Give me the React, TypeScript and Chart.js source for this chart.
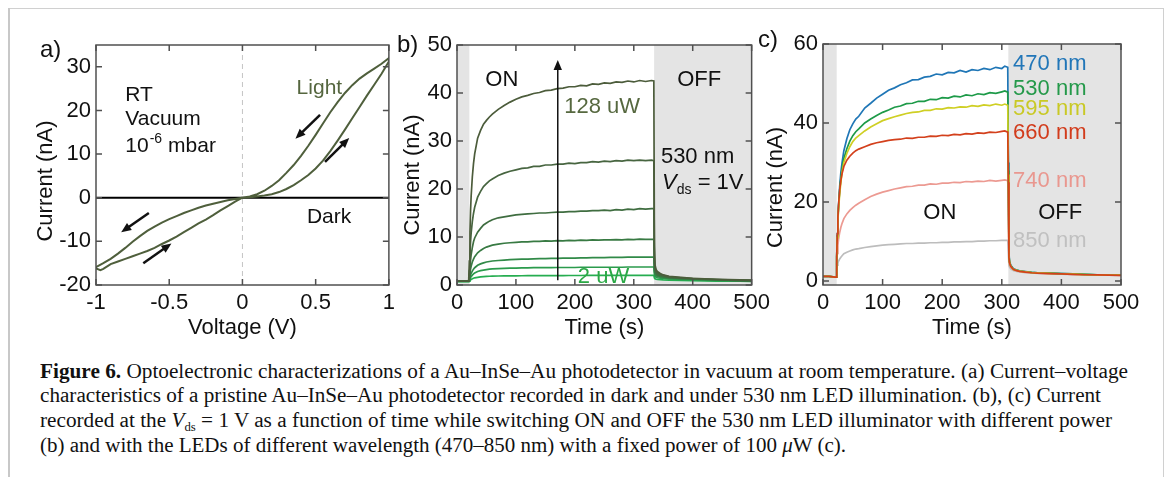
import React, { useEffect, useLayoutEffect, useRef } from "react";
import { Chart, registerables } from "chart.js";

Chart.register(...registerables);

const SANS = "'Liberation Sans', Arial, Helvetica, sans-serif";
const SERIF = "'Liberation Serif', 'Times New Roman', serif";

// ---------------- Panel a: I–V loop (530 nm light) ----------------
const ivVoltage = [
  0, 0.05, 0.1, 0.15, 0.2, 0.25, 0.3, 0.35, 0.4, 0.45, 0.5, 0.55, 0.6, 0.65, 0.7, 0.75, 0.8, 0.85, 0.9, 0.95, 1.0,
  1.0, 0.95, 0.9, 0.85, 0.8, 0.75, 0.7, 0.65, 0.6, 0.55, 0.5, 0.45, 0.4, 0.35, 0.3, 0.25, 0.2, 0.15, 0.1, 0.05, 0,
  -0.05, -0.1, -0.15, -0.2, -0.25, -0.3, -0.35, -0.4, -0.45, -0.5, -0.55, -0.6, -0.65, -0.7, -0.75, -0.8, -0.85, -0.9, -0.95, -1.0,
  -1.0, -0.97, -0.95, -0.9, -0.85, -0.8, -0.75, -0.7, -0.65, -0.6, -0.55, -0.5, -0.45, -0.4, -0.35, -0.3, -0.25, -0.2, -0.15, -0.1, -0.05, 0,
];
const ivCurrent = [
  0, 0.1, 0.3, 0.5, 0.8, 1.3, 2.0, 2.9, 4.0, 5.2, 6.7, 8.5, 10.7, 13.1, 15.6, 18.2, 20.8, 23.4, 25.9, 28.4, 31.2,
  32.0, 30.7, 29.6, 28.5, 27.3, 25.8, 24.0, 21.9, 19.6, 17.0, 14.4, 11.9, 9.6, 7.5, 5.7, 4.0, 2.7, 1.6, 0.8, 0.3, 0,
  -0.3, -0.6, -1.0, -1.4, -1.8, -2.3, -2.9, -3.5, -4.2, -4.9, -5.7, -6.6, -7.6, -8.8, -10.1, -11.5, -12.8, -14.0, -15.0, -15.9,
  -16.2, -16.6, -16.3, -15.2, -14.6, -14.0, -13.4, -12.8, -12.2, -11.5, -10.6, -9.8, -8.9, -7.9, -6.9, -5.9, -5.0, -4.0, -2.9, -1.9, -0.9, 0,
];
const darkVoltage = [-1, 1];
const darkCurrent = [0, 0];
const zeroGuideV = [0, 0];
const zeroGuideI = [-20, 35];
const voltageTicks = [-1, -0.5, 0, 0.5, 1];
const currentTicksA = [-20, -10, 0, 10, 20, 30];

// ---------------- Panel b: 530 nm, different power ----------------
const timeB = [
  0, 10, 19, 20, 21, 22, 23, 24, 26, 28,
  30, 35, 40, 45, 50, 55, 60,
  70, 80, 90, 100, 110, 120, 130, 140, 150, 160, 170, 180, 190, 200, 210, 220, 230, 240, 250, 260, 270, 280, 290, 300, 310, 320, 330,
  334, 335, 336, 338, 340, 345, 350, 360, 380, 400, 420, 440, 460, 480, 500,
];
const powerLabels = ["128 uW", "P6", "P5", "P4", "P3", "P2", "2 uW"];
const bCurve1 = [
  0.8, 0.8, 0.8, 1.5, 5, 11, 15.5, 18.5, 22.5, 25.3,
  27.3, 30.6, 32.2, 33.5, 34.3, 35.0, 35.6,
  36.6, 37.4, 38.1, 38.7, 39.2, 39.5, 39.9, 40.1, 40.5, 40.6, 40.9, 41.0, 41.3, 41.3, 41.6, 41.5, 41.9, 41.8, 42.1, 42.0, 42.3, 42.2, 42.5, 42.3, 42.6, 42.4, 42.6,
  42.5, 8, 4.2, 3.2, 2.8, 2.4, 2.1, 1.8, 1.6, 1.4, 1.3, 1.2, 1.1, 1.05, 1.0,
];
const bCurve2 = [
  0.8, 0.8, 0.8, 1.2, 3, 6.5, 9, 10.8, 13.2, 14.9,
  16.2, 18.3, 19.5, 20.5, 21.1, 21.7, 22.1,
  22.8, 23.3, 23.7, 24.0, 24.3, 24.4, 24.7, 24.7, 25.0, 25.0, 25.2, 25.2, 25.4, 25.3, 25.5, 25.5, 25.7, 25.6, 25.8, 25.7, 25.9, 25.8, 26.0, 25.9, 26.0, 25.9, 26.0,
  25.9, 6, 3.6, 2.9, 2.5, 2.2, 2.0, 1.7, 1.5, 1.35, 1.25, 1.15, 1.05, 1.0, 0.95,
];
const bCurve3 = [
  0.8, 0.8, 0.8, 1.0, 2.1, 3.8, 5.2, 6.3, 7.8, 9.0,
  9.8, 11.0, 11.8, 12.5, 12.9, 13.3, 13.6,
  14.0, 14.2, 14.4, 14.6, 14.7, 14.8, 14.9, 15.0, 15.0, 15.1, 15.2, 15.2, 15.3, 15.3, 15.4, 15.4, 15.5, 15.5, 15.6, 15.5, 15.7, 15.6, 15.8, 15.7, 15.9, 15.8, 15.9,
  15.9, 4.5, 3.0, 2.5, 2.2, 2.0, 1.8, 1.6, 1.4, 1.3, 1.2, 1.1, 1.0, 0.95, 0.9,
];
const bCurve4 = [
  0.8, 0.8, 0.8, 0.9, 1.6, 2.5, 3.3, 3.9, 4.8, 5.4,
  5.9, 6.7, 7.2, 7.6, 7.9, 8.1, 8.3,
  8.5, 8.7, 8.8, 8.9, 9.0, 9.0, 9.1, 9.1, 9.2, 9.15, 9.25, 9.2, 9.3, 9.25, 9.35, 9.3, 9.4, 9.35, 9.4, 9.4, 9.45, 9.4, 9.5, 9.45, 9.55, 9.5, 9.5,
  9.5, 3.5, 2.6, 2.2, 2.0, 1.8, 1.7, 1.5, 1.35, 1.25, 1.15, 1.05, 1.0, 0.9, 0.85,
];
const bCurve5 = [
  0.8, 0.8, 0.8, 0.85, 1.2, 1.7, 2.1, 2.4, 2.9, 3.3,
  3.6, 4.1, 4.4, 4.6, 4.8, 4.9, 5.0,
  5.1, 5.2, 5.3, 5.35, 5.4, 5.4, 5.45, 5.5, 5.5, 5.55, 5.55, 5.6, 5.6, 5.6, 5.65, 5.65, 5.7, 5.7, 5.7, 5.75, 5.75, 5.75, 5.8, 5.8, 5.8, 5.8, 5.8,
  5.8, 2.8, 2.2, 1.9, 1.8, 1.65, 1.55, 1.4, 1.3, 1.2, 1.1, 1.0, 0.95, 0.88, 0.82,
];
const bCurve6 = [
  0.75, 0.75, 0.75, 0.8, 1.0, 1.3, 1.55, 1.75, 2.05, 2.3,
  2.5, 2.8, 3.0, 3.1, 3.2, 3.3, 3.35,
  3.4, 3.45, 3.5, 3.5, 3.55, 3.55, 3.6, 3.6, 3.6, 3.6, 3.65, 3.65, 3.65, 3.65, 3.7, 3.7, 3.7, 3.7, 3.7, 3.7, 3.7, 3.7, 3.75, 3.75, 3.75, 3.75, 3.75,
  3.75, 2.2, 1.8, 1.6, 1.5, 1.4, 1.35, 1.25, 1.15, 1.1, 1.0, 0.95, 0.9, 0.85, 0.8,
];
const bCurve7 = [
  0.7, 0.7, 0.7, 0.72, 0.8, 0.95, 1.05, 1.15, 1.3, 1.4,
  1.5, 1.6, 1.7, 1.75, 1.8, 1.82, 1.85,
  1.88, 1.9, 1.9, 1.92, 1.93, 1.94, 1.95, 1.95, 1.96, 1.96, 1.97, 1.97, 1.98, 1.98, 1.98, 1.99, 1.99, 2.0, 2.0, 2.0, 2.0, 2.0, 2.0, 2.0, 2.0, 2.0, 2.0,
  2.0, 1.5, 1.3, 1.2, 1.15, 1.1, 1.05, 1.0, 0.95, 0.9, 0.85, 0.82, 0.8, 0.78, 0.75,
];
const bColors = ["#4c5c3b", "#476540", "#3f6d40", "#387a43", "#318a48", "#2b9b4c", "#26ad50"];
const timeTicks = [0, 100, 200, 300, 400, 500];
const currentTicksB = [0, 10, 20, 30, 40, 50];

// ---------------- Panel c: different wavelengths ----------------
const timeC = [
  0, 10, 20, 22, 23, 24, 25, 26, 28, 30,
  32, 35, 40, 45, 50, 55, 60,
  70, 80, 90, 100, 110, 120, 130, 140, 150, 160, 170, 180, 190, 200, 210, 220, 230, 240, 250, 260, 270, 280, 290, 300,
  305, 310,
  311, 312, 313, 315, 318, 320, 325, 330, 340, 350, 360, 380, 400, 420, 440, 460, 480, 500,
];
const wavelengthLabels = ["470 nm", "530 nm", "595 nm", "660 nm", "740 nm", "850 nm"];
const c470 = [
  1.2, 1.2, 1.0, 1.0, 6, 12, 16, 19, 24, 27.5,
  30, 33, 36, 38.3, 39.8, 41.0, 41.7,
  43.8, 45.0, 46.3, 47.3, 48.3, 48.9, 49.7, 50.2, 50.9, 51.0, 51.6, 51.8, 52.4, 52.2, 52.8, 52.7, 53.3, 52.9, 53.5, 53.3, 53.8, 53.5, 54.1, 53.8,
  54.4, 54.1,
  30, 7, 5, 4, 3.4, 3.1, 2.8, 2.6, 2.4, 2.2, 2.1, 2.0, 1.9, 1.8, 1.7, 1.6, 1.55, 1.5,
];
const c530 = [
  1.2, 1.2, 1.0, 1.0, 6, 11.5, 15.5, 18.5, 23, 26,
  28.5, 31, 33.5, 35.4, 36.8, 37.8, 38.5,
  40.0, 41.0, 41.9, 42.7, 43.3, 44.0, 44.3, 44.9, 45.0, 45.5, 45.5, 46.0, 45.9, 46.4, 46.3, 46.8, 46.6, 47.1, 46.9, 47.4, 47.2, 47.7, 47.5, 47.9,
  48.1, 47.8,
  28, 6.5, 4.8, 3.9, 3.3, 3.0, 2.75, 2.55, 2.35, 2.2, 2.1, 2.0, 1.9, 1.8, 1.7, 1.6, 1.55, 1.5,
];
const c595 = [
  1.2, 1.2, 1.0, 1.0, 6, 11, 15, 18, 22, 25,
  27.5, 30, 32.3, 34, 35.3, 36.2, 36.8,
  38.0, 39.0, 39.8, 40.6, 41.1, 41.6, 42.0, 42.4, 42.7, 42.8, 43.2, 43.2, 43.6, 43.5, 43.9, 43.8, 44.1, 44.0, 44.4, 44.2, 44.6, 44.4, 44.8, 44.5,
  44.8, 44.5,
  27, 6.3, 4.7, 3.8, 3.25, 2.95, 2.7, 2.5, 2.3, 2.15, 2.05, 1.95, 1.85, 1.75, 1.65, 1.58, 1.52, 1.48,
];
const c660 = [
  1.2, 1.2, 1.0, 1.0, 6, 12, 16, 19, 23, 25.5,
  27.2, 29, 30.6, 31.6, 32.4, 33.0, 33.4,
  34.0, 34.6, 35.0, 35.3, 35.6, 35.8, 35.9, 36.2, 36.1, 36.4, 36.4, 36.7, 36.6, 36.9, 36.8, 37.1, 37.0, 37.3, 37.2, 37.5, 37.4, 37.7, 37.6, 37.9,
  38.0, 37.7,
  25, 6, 4.6, 3.7, 3.2, 2.9, 2.65, 2.45, 2.25, 2.1, 2.0, 1.9, 1.8, 1.7, 1.6, 1.55, 1.5, 1.45,
];
const c740 = [
  1.2, 1.2, 1.0, 1.0, 4.5, 7, 9, 10.5, 12.3, 13.6,
  14.6, 15.8, 17.0, 17.9, 18.6, 19.2, 19.7,
  20.6, 21.4, 22.0, 22.5, 22.9, 23.3, 23.6, 23.9, 24.0, 24.3, 24.3, 24.6, 24.5, 24.8, 24.8, 25.0, 24.9, 25.2, 25.1, 25.3, 25.2, 25.5, 25.3, 25.5,
  25.6, 25.4,
  16, 5, 4.2, 3.5, 3.0, 2.8, 2.6, 2.4, 2.2, 2.1, 2.0, 1.9, 1.8, 1.7, 1.6, 1.55, 1.5, 1.45,
];
const c850 = [
  1.2, 1.2, 1.0, 1.0, 3.2, 4.0, 4.6, 5.0, 5.6, 6.0,
  6.4, 6.9, 7.3, 7.6, 7.9, 8.1, 8.2,
  8.5, 8.7, 8.9, 9.1, 9.2, 9.3, 9.4, 9.5, 9.5, 9.6, 9.6, 9.7, 9.7, 9.8, 9.8, 9.9, 9.9, 10.0, 10.0, 10.1, 10.1, 10.2, 10.2, 10.3,
  10.3, 10.3,
  7, 4, 3.5, 3.1, 2.8, 2.6, 2.45, 2.3, 2.15, 2.05, 1.95, 1.85, 1.75, 1.65, 1.58, 1.52, 1.48, 1.44,
];
const cLineColors = ["#1f76b6", "#1d9a48", "#cfcf24", "#d3401c", "#ec9a92", "#bdbdbd"];
const cTextColors = ["#2176b8", "#24994a", "#c9c925", "#d23c1c", "#e9978f", "#c0c0c0"];
const cLabelLevels = [54.9, 48.7, 43.6, 37.6, 25.3, 10.1];
const currentTicksC = [0, 20, 40, 60];

// ---------------- caption ----------------
const captionEnds = [1128, 1101, 1112, 846];

const toXY = (xs: number[], ys: number[]) => xs.map((v, i) => ({ x: v, y: ys[i] }));

function drawArrow(ctx: CanvasRenderingContext2D, x0: number, y0: number, x1: number, y1: number, head: number, width: number) {
  const a = Math.atan2(y1 - y0, x1 - x0);
  const c = Math.cos(a), s = Math.sin(a);
  ctx.strokeStyle = "#111";
  ctx.fillStyle = "#111";
  ctx.lineWidth = width;
  ctx.beginPath();
  ctx.moveTo(x0, y0);
  ctx.lineTo(x1 - head * 0.7 * c, y1 - head * 0.7 * s);
  ctx.stroke();
  ctx.beginPath();
  ctx.moveTo(x1, y1);
  ctx.lineTo(x1 - head * c + head * 0.42 * s, y1 - head * s - head * 0.42 * c);
  ctx.lineTo(x1 - head * c - head * 0.42 * s, y1 - head * s + head * 0.42 * c);
  ctx.closePath();
  ctx.fill();
}

type Spec = {
  xMin: number; xMax: number; xTicks: number[];
  yMin: number; yMax: number; yTicks: number[];
  axisW: number; axisH: number; padTop: number; padRight: number;
  xTitle: string; xTitlePad: number;
  yTitle: string; yTitleDx: number; yTitleDy: number;
  panel: string; panelX: number; panelY: number;
  shade: number[][];
  annotate: (ctx: CanvasRenderingContext2D, x: any, y: any, a: any) => void;
};

function makeConfig(datasets: any[], p: Spec) {
  const plugin = {
    id: "panelDeco",
    beforeDatasetsDraw(chart: any) {
      const { ctx, chartArea: a, scales: { x } } = chart;
      ctx.save();
      ctx.fillStyle = "#e4e4e4";
      for (const [s, e] of p.shade) {
        const x0 = x.getPixelForValue(s), x1 = x.getPixelForValue(e);
        ctx.fillRect(x0, a.top, x1 - x0, a.bottom - a.top);
      }
      ctx.restore();
    },
    afterDatasetsDraw(chart: any) {
      const { ctx, chartArea: a, scales: { x, y } } = chart;
      ctx.save();
      ctx.strokeStyle = "#505050";
      ctx.lineWidth = 1.5;
      ctx.strokeRect(a.left, a.top, a.right - a.left, a.bottom - a.top);
      ctx.beginPath();
      x.ticks.forEach((t: any) => {
        const px = x.getPixelForValue(t.value);
        ctx.moveTo(px, a.bottom); ctx.lineTo(px, a.bottom - 6);
        ctx.moveTo(px, a.top); ctx.lineTo(px, a.top + 6);
      });
      y.ticks.forEach((t: any) => {
        const py = y.getPixelForValue(t.value);
        ctx.moveTo(a.left, py); ctx.lineTo(a.left + 6, py);
        ctx.moveTo(a.right, py); ctx.lineTo(a.right - 6, py);
      });
      ctx.stroke();
      ctx.save();
      ctx.translate(a.left + p.yTitleDx, (a.top + a.bottom) / 2 + p.yTitleDy);
      ctx.rotate(-Math.PI / 2);
      ctx.font = `22px ${SANS}`;
      ctx.fillStyle = "#111";
      ctx.textAlign = "center";
      ctx.textBaseline = "middle";
      ctx.fillText(p.yTitle, 0, 0);
      ctx.restore();
      ctx.font = `24px ${SANS}`;
      ctx.fillStyle = "#111";
      ctx.textAlign = "left";
      ctx.textBaseline = "middle";
      ctx.fillText(p.panel, p.panelX, p.panelY);
      p.annotate(ctx, x, y, a);
      ctx.restore();
    },
  };
  return {
    type: "line" as const,
    data: { datasets },
    options: {
      responsive: false,
      animation: false as const,
      events: [],
      layout: { padding: { top: p.padTop, right: p.padRight, left: 0, bottom: 0 } },
      plugins: { legend: { display: false }, tooltip: { enabled: false } },
      elements: { point: { radius: 0 }, line: { tension: 0 } },
      scales: {
        x: {
          type: "linear" as const,
          min: p.xMin,
          max: p.xMax,
          grid: { display: false, drawTicks: false },
          border: { display: false },
          ticks: {
            autoSkip: false, maxRotation: 0, padding: 5, color: "#111",
            font: { family: SANS, size: 22 }, callback: (v: any) => String(v),
          },
          afterBuildTicks: (s: any) => { s.ticks = p.xTicks.map((v) => ({ value: v })); },
          title: {
            display: true, text: p.xTitle, color: "#111",
            font: { family: SANS, size: 22 }, padding: { top: 0, bottom: p.xTitlePad },
          },
          afterFit: (s: any) => { s.height = p.axisH; },
        },
        y: {
          type: "linear" as const,
          min: p.yMin,
          max: p.yMax,
          grid: { display: false, drawTicks: false },
          border: { display: false },
          ticks: {
            autoSkip: false, padding: 5, color: "#111",
            font: { family: SANS, size: 22 }, callback: (v: any) => String(v),
          },
          afterBuildTicks: (s: any) => { s.ticks = p.yTicks.map((v) => ({ value: v })); },
          afterFit: (s: any) => { s.width = p.axisW; },
        },
      },
    },
    plugins: [plugin],
  };
}

function configA() {
  const datasets = [
    { label: "Light", data: toXY(ivVoltage, ivCurrent), borderColor: "#4f5f3c", borderWidth: 2, pointRadius: 0 },
    { label: "Dark", data: toXY(darkVoltage, darkCurrent), borderColor: "#000", borderWidth: 2, pointRadius: 0 },
    { label: "V=0", data: toXY(zeroGuideV, zeroGuideI), borderColor: "#c4c4c4", borderWidth: 1, borderDash: [5, 4], pointRadius: 0 },
  ];
  return makeConfig(datasets, {
    xMin: -1, xMax: 1, xTicks: voltageTicks, yMin: -20, yMax: 35, yTicks: currentTicksA,
    axisW: 82, axisH: 65, padTop: 25, padRight: 9,
    xTitle: "Voltage (V)", xTitlePad: 9,
    yTitle: "Current (nA)", yTitleDx: -50, yTitleDy: 16,
    panel: "a)", panelX: 26, panelY: 30,
    shade: [],
    annotate: (ctx, x, y) => {
      ctx.font = `21px ${SANS}`;
      ctx.fillStyle = "#111";
      ctx.textAlign = "left";
      ctx.textBaseline = "middle";
      const lx = x.getPixelForValue(-0.8);
      ctx.fillText("RT", lx, y.getPixelForValue(23.6));
      ctx.fillText("Vacuum", lx, y.getPixelForValue(17.9));
      const py = y.getPixelForValue(11.8);
      ctx.fillText("10", lx, py);
      let px = lx + ctx.measureText("10").width + 1;
      ctx.font = `14px ${SANS}`;
      ctx.fillText("-6", px, py - 7);
      px += ctx.measureText("-6").width + 6;
      ctx.font = `21px ${SANS}`;
      ctx.fillText("mbar", px, py);
      ctx.fillStyle = "#55663f";
      ctx.fillText("Light", x.getPixelForValue(0.37), y.getPixelForValue(25.2));
      ctx.fillStyle = "#111";
      ctx.fillText("Dark", x.getPixelForValue(0.44), y.getPixelForValue(-4.5));
      const arrows = [
        [0.53, 19.0, 0.362, 13.5],
        [0.564, 8.2, 0.729, 13.7],
        [-0.639, -3.5, -0.828, -7.9],
        [-0.677, -15.0, -0.485, -10.5],
      ];
      for (const [v0, i0, v1, i1] of arrows) {
        drawArrow(ctx, x.getPixelForValue(v0), y.getPixelForValue(i0), x.getPixelForValue(v1), y.getPixelForValue(i1), 10, 2.5);
      }
    },
  });
}

function configB() {
  const curves = [bCurve1, bCurve2, bCurve3, bCurve4, bCurve5, bCurve6, bCurve7];
  const datasets = curves.map((c, i) => ({
    label: powerLabels[i], data: toXY(timeB, c), borderColor: bColors[i], borderWidth: 1.7, pointRadius: 0,
  }));
  return makeConfig(datasets, {
    xMin: 0, xMax: 500, xTicks: timeTicks, yMin: 0, yMax: 50, yTicks: currentTicksB,
    axisW: 64, axisH: 65, padTop: 25, padRight: 22,
    xTitle: "Time (s)", xTitlePad: 9,
    yTitle: "Current (nA)", yTitleDx: -44, yTitleDy: 10,
    panel: "b)", panelX: 4, panelY: 25,
    shade: [[0, 21], [334.5, 500]],
    annotate: (ctx, x, y) => {
      ctx.font = `22px ${SANS}`;
      ctx.fillStyle = "#111";
      ctx.textBaseline = "middle";
      ctx.textAlign = "center";
      ctx.fillText("ON", x.getPixelForValue(76), y.getPixelForValue(42.7));
      ctx.fillText("OFF", x.getPixelForValue(411), y.getPixelForValue(42.7));
      ctx.textAlign = "left";
      ctx.fillStyle = "#56683f";
      ctx.fillText("128 uW", x.getPixelForValue(182), y.getPixelForValue(37.1));
      ctx.fillStyle = "#2aa845";
      ctx.fillText("2 uW", x.getPixelForValue(205), y.getPixelForValue(1.7));
      ctx.fillStyle = "#111";
      ctx.fillText("530 nm", x.getPixelForValue(346), y.getPixelForValue(26.7));
      let px = x.getPixelForValue(348);
      const py = y.getPixelForValue(21.2);
      ctx.font = `italic 22px ${SANS}`;
      ctx.fillText("V", px, py);
      px += ctx.measureText("V").width;
      ctx.font = `14px ${SANS}`;
      ctx.fillText("ds", px, py + 7);
      px += ctx.measureText("ds").width;
      ctx.font = `22px ${SANS}`;
      ctx.fillText(" = 1V", px, py);
      drawArrow(ctx, x.getPixelForValue(171), y.getPixelForValue(1), x.getPixelForValue(171), y.getPixelForValue(46.9), 10, 1.5);
    },
  });
}

function configC() {
  const curves = [c470, c530, c595, c660, c740, c850];
  const order = [3, 2, 1, 0, 4, 5];
  const datasets = order.map((i) => ({
    label: wavelengthLabels[i], data: toXY(timeC, curves[i]), borderColor: cLineColors[i], borderWidth: 1.7, pointRadius: 0,
  }));
  return makeConfig(datasets, {
    xMin: 0, xMax: 500, xTicks: timeTicks, yMin: -1, yMax: 60, yTicks: currentTicksC,
    axisW: 68, axisH: 65, padTop: 24, padRight: 39,
    xTitle: "Time (s)", xTitlePad: 9,
    yTitle: "Current (nA)", yTitleDx: -47, yTitleDy: 23,
    panel: "c)", panelX: 3, panelY: 20,
    shade: [[0, 23], [311, 500]],
    annotate: (ctx, x, y) => {
      ctx.font = `22px ${SANS}`;
      ctx.fillStyle = "#111";
      ctx.textBaseline = "middle";
      ctx.textAlign = "center";
      ctx.fillText("ON", x.getPixelForValue(196), y.getPixelForValue(17.3));
      ctx.fillText("OFF", x.getPixelForValue(398), y.getPixelForValue(17.3));
      ctx.textAlign = "left";
      wavelengthLabels.forEach((w, i) => {
        ctx.fillStyle = cTextColors[i];
        ctx.fillText(w, x.getPixelForValue(319), y.getPixelForValue(cLabelLevels[i]));
      });
    },
  });
}

export default function App() {
  const ra = useRef<HTMLCanvasElement>(null);
  const rb = useRef<HTMLCanvasElement>(null);
  const rc = useRef<HTMLCanvasElement>(null);
  const lines = useRef<(HTMLSpanElement | null)[]>([]);

  useEffect(() => {
    const charts = [
      new Chart(ra.current as HTMLCanvasElement, configA() as any),
      new Chart(rb.current as HTMLCanvasElement, configB() as any),
      new Chart(rc.current as HTMLCanvasElement, configC() as any),
    ];
    return () => charts.forEach((c) => c.destroy());
  }, []);

  useLayoutEffect(() => {
    const fit = () => {
      lines.current.forEach((el, i) => {
        if (!el) return;
        el.style.transform = "none";
        const w = el.getBoundingClientRect().width;
        el.style.transform = `scaleX(${(captionEnds[i] - 40) / w})`;
      });
    };
    fit();
    (document as any).fonts?.ready?.then(fit);
  }, []);

  const lineStyle = (top: number): React.CSSProperties => ({
    position: "absolute", left: 40, top, whiteSpace: "nowrap", display: "inline-block",
    transformOrigin: "0 0", fontFamily: SERIF, fontSize: 20, lineHeight: "24px", color: "#111",
  });
  const sub: React.CSSProperties = { fontSize: 12, verticalAlign: -4 };

  return (
    <div style={{ position: "absolute", left: 0, top: 0, width: 1166, height: 477, background: "#fff", overflow: "hidden" }}>
      <div style={{ position: "absolute", left: 9, top: 8, width: 1154, height: 0, borderTop: "1px solid #d0d0d0" }} />
      <div style={{ position: "absolute", left: 8, top: 8, width: 0, height: 469, borderLeft: "2px solid #c8c8c8" }} />
      <div style={{ position: "absolute", left: 1163, top: 8, width: 0, height: 469, borderLeft: "1px solid #d0d0d0" }} />
      <canvas ref={ra} width={386} height={330} style={{ position: "absolute", left: 14, top: 20 }} />
      <canvas ref={rb} width={382} height={330} style={{ position: "absolute", left: 393, top: 20 }} />
      <canvas ref={rc} width={405} height={330} style={{ position: "absolute", left: 755, top: 20 }} />
      <span ref={(el) => { lines.current[0] = el; }} style={lineStyle(359)}>
        <b>Figure 6.</b> Optoelectronic characterizations of a Au–InSe–Au photodetector in vacuum at room temperature. (a) Current–voltage
      </span>
      <span ref={(el) => { lines.current[1] = el; }} style={lineStyle(383)}>
        characteristics of a pristine Au–InSe–Au photodetector recorded in dark and under 530 nm LED illumination. (b), (c) Current
      </span>
      <span ref={(el) => { lines.current[2] = el; }} style={lineStyle(408)}>
        recorded at the <i>V</i><span style={sub}>ds</span> = 1 V as a function of time while switching ON and OFF the 530 nm LED illuminator with different power
      </span>
      <span ref={(el) => { lines.current[3] = el; }} style={lineStyle(433)}>
        (b) and with the LEDs of different wavelength (470–850 nm) with a fixed power of 100 <i>μ</i>W (c).
      </span>
    </div>
  );
}
